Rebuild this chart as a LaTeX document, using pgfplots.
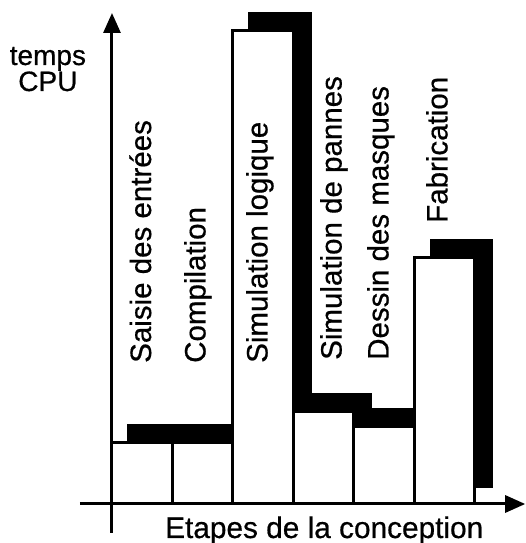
\documentclass[border=0pt]{standalone}
\usepackage{pgfplots}
\pgfplotsset{compat=1.18}
\usetikzlibrary{arrows.meta}
\usepackage{fontspec}
\setmainfont{Liberation Sans}[FakeBold=0.6]

\newcommand\lbl{\fontsize{29.5bp}{32bp}\selectfont}

\begin{document}
\begin{tikzpicture}
\begin{axis}[
  x=60.5bp, y=1bp,
  xmin=-0.53, xmax=6.83, ymin=-29, ymax=491,
  axis x line=middle, axis y line=middle,
  axis line style={line width=3bp, -{Triangle[length=20bp,width=17bp]}},
  xtick=\empty, ytick=\empty,
  clip=false,
  axis on top,
]
% CPU time per design stage: shadow first, then the white bars
\addplot[ybar interval, fill=black, draw=black, line width=3bp,
  xshift=17bp, yshift=17bp]
  coordinates {(0,61) (1,61) (2,473) (3,92) (4,77) (5,246) (6,246)};
\addplot[ybar interval, fill=white, draw=black, line width=3bp]
  coordinates {(0,61) (1,61) (2,473) (3,92) (4,77) (5,246) (6,246)};

% stage names
\node[rotate=90, anchor=base west, inner sep=0pt] at (axis cs:0.645,141) {\lbl Saisie des entrées};
\node[rotate=90, anchor=base west, inner sep=0pt] at (axis cs:1.545,141) {\lbl Compilation};
\node[rotate=90, anchor=base west, inner sep=0pt] at (axis cs:2.57,141) {\lbl Simulation logique};
\node[rotate=90, anchor=base west, inner sep=0pt] at (axis cs:3.795,144) {\lbl Simulation de pannes};
\node[rotate=90, anchor=base west, inner sep=0pt] at (axis cs:4.57,144) {\lbl Dessin des masques};
\node[rotate=90, anchor=base west, inner sep=0pt] at (axis cs:5.545,281) {\lbl Fabrication};

% axis titles
\node[anchor=base, inner sep=0pt] at (axis cs:-1.06,439) {\fontsize{28bp}{28bp}\selectfont temps};
\node[anchor=base, inner sep=0pt] at (axis cs:-1.06,413) {\fontsize{28bp}{28bp}\selectfont CPU};
\node[anchor=base west, inner sep=0pt] at (axis cs:0.876,-34) {\fontsize{29.8bp}{32bp}\selectfont Etapes de la conception};

\coordinate (tl) at (axis cs:-1.851,504);
\coordinate (br) at (axis cs:6.843,-39);
\end{axis}
\pgfresetboundingbox
\path[use as bounding box] (tl) rectangle (br);
\end{tikzpicture}
\end{document}
